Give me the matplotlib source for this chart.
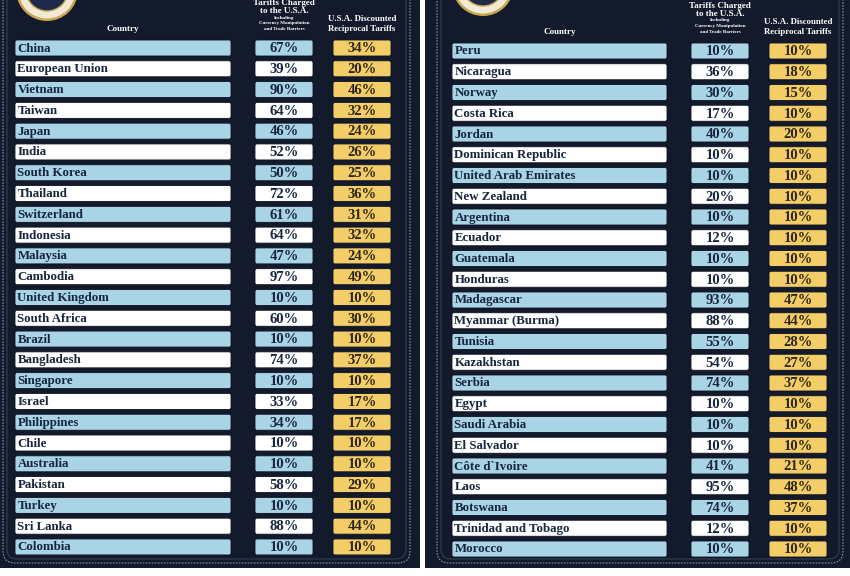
import matplotlib
matplotlib.use("Agg")
import matplotlib.pyplot as plt
from matplotlib.patches import FancyBboxPatch, Circle

# left panel data
left_countries = ["China", "European Union", "Vietnam", "Taiwan", "Japan", "India",
                  "South Korea", "Thailand", "Switzerland", "Indonesia", "Malaysia",
                  "Cambodia", "United Kingdom", "South Africa", "Brazil", "Bangladesh",
                  "Singapore", "Israel", "Philippines", "Chile", "Australia", "Pakistan",
                  "Turkey", "Sri Lanka", "Colombia"]
left_charged = [67, 39, 90, 64, 46, 52, 50, 72, 61, 64, 47, 97, 10, 60, 10, 74, 10,
                33, 34, 10, 10, 58, 10, 88, 10]
left_reciprocal = [34, 20, 46, 32, 24, 26, 25, 36, 31, 32, 24, 49, 10, 30, 10, 37, 10,
                   17, 17, 10, 10, 29, 10, 44, 10]

# right panel data
right_countries = ["Peru", "Nicaragua", "Norway", "Costa Rica", "Jordan",
                   "Dominican Republic", "United Arab Emirates", "New Zealand",
                   "Argentina", "Ecuador", "Guatemala", "Honduras", "Madagascar",
                   "Myanmar (Burma)", "Tunisia", "Kazakhstan", "Serbia", "Egypt",
                   "Saudi Arabia", "El Salvador", "Côte d`Ivoire", "Laos", "Botswana",
                   "Trinidad and Tobago", "Morocco"]
right_charged = [10, 36, 30, 17, 40, 10, 10, 20, 10, 12, 10, 10, 93, 88, 55, 54, 74,
                 10, 10, 10, 41, 95, 74, 12, 10]
right_reciprocal = [10, 18, 15, 10, 20, 10, 10, 10, 10, 10, 10, 10, 47, 44, 28, 27, 37,
                    10, 10, 10, 21, 48, 37, 10, 10]

BG = "#131a2b"
BLUE = "#a9d4e6"
GOLD = "#f3cd68"
INK = "#17253d"
INK_GOLD = "#2e2616"
FONT = "Liberation Serif"

fig = plt.figure(figsize=(8.5, 5.76), dpi=100)
fig.patch.set_facecolor("white")
ax = fig.add_axes([0, 0, 1, 1])
ax.set_xlim(0, 850)
ax.set_ylim(576, 0)
ax.axis("off")


def cell(x0, x1, y, h, color):
    ax.add_patch(FancyBboxPatch((x0, y - h / 2), x1 - x0, h,
                                boxstyle="round,pad=0,rounding_size=2",
                                facecolor=color, edgecolor="#0d1220", linewidth=0.6))


def head(x, y, s, size):
    ax.text(x, y, s, color="white", fontsize=size, fontweight="bold", family=FONT,
            ha="center", va="center")


def panel(px0, px1, bx0, bx1, seal_x, seal_y, countries, charged, reciprocal,
          top, pitch, cols, head_y):
    # background + border
    ax.add_patch(FancyBboxPatch((px0, -20), px1 - px0, 588, boxstyle="square,pad=0",
                                facecolor=BG, edgecolor="none"))
    ax.add_patch(FancyBboxPatch((bx0, -30), bx1 - bx0, 593,
                                boxstyle="round,pad=0,rounding_size=12",
                                facecolor="none", edgecolor="#7f93b8",
                                linewidth=0.8, linestyle=(0, (1.5, 1.2))))
    ax.add_patch(FancyBboxPatch((bx0 + 4, -30), bx1 - bx0 - 8, 589,
                                boxstyle="round,pad=0,rounding_size=10",
                                facecolor="none", edgecolor="#3b4a66", linewidth=0.6))
    # seal
    ax.add_patch(Circle((seal_x, seal_y), 31, facecolor="#c9a550", edgecolor="none"))
    ax.add_patch(Circle((seal_x, seal_y), 28.5, facecolor="#f0ead6", edgecolor="none"))
    ax.add_patch(Circle((seal_x, seal_y), 21, facecolor="#1d2a4a", edgecolor="#c9a550",
                        linewidth=1))

    (c0, c1), (t0, t1), (r0, r1) = cols
    tc = (t0 + t1) / 2
    rc = (r0 + r1) / 2
    hy = head_y
    head((c0 + c1) / 2, hy + 20, "Country", 6.5)
    head(tc, hy - 6, "Tariffs Charged", 6.5)
    head(tc, hy + 2, "to the U.S.A.", 6.5)
    head(tc, hy + 8.5, "Including", 3.6)
    head(tc, hy + 14, "Currency Manipulation", 3.6)
    head(tc, hy + 20, "and Trade Barriers", 3.6)
    head(rc, hy + 10, "U.S.A. Discounted", 6.3)
    head(rc, hy + 20, "Reciprocal Tariffs", 6.3)

    h = 16
    for i, (name, ch, rp) in enumerate(zip(countries, charged, reciprocal)):
        y = top + i * pitch
        fill = BLUE if i % 2 == 0 else "white"
        cell(c0, c1, y, h, fill)
        cell(t0, t1, y, h, fill)
        cell(r0, r1, y, h, GOLD)
        ax.text(c0 + 2.5, y + 0.5, name, color=INK, fontsize=9.3, fontweight="bold",
                family=FONT, ha="left", va="center")
        ax.text(tc, y + 0.8, f"{ch}%", color=INK, fontsize=10.5, fontweight="bold",
                family=FONT, ha="center", va="center")
        ax.text(rc, y + 0.8, f"{rp}%", color=INK_GOLD, fontsize=10.5,
                fontweight="bold", family=FONT, ha="center", va="center")


panel(0, 420, 3, 410, 47, -10, left_countries, left_charged, left_reciprocal,
      48, 20.79, [(15, 231), (255, 313), (333, 391)], 9)
panel(425, 850, 437, 843, 483, -15, right_countries, right_charged, right_reciprocal,
      51, 20.75, [(452, 667), (691, 749), (769, 827)], 12)

fig.savefig("out.png", dpi=100, facecolor=fig.get_facecolor())
